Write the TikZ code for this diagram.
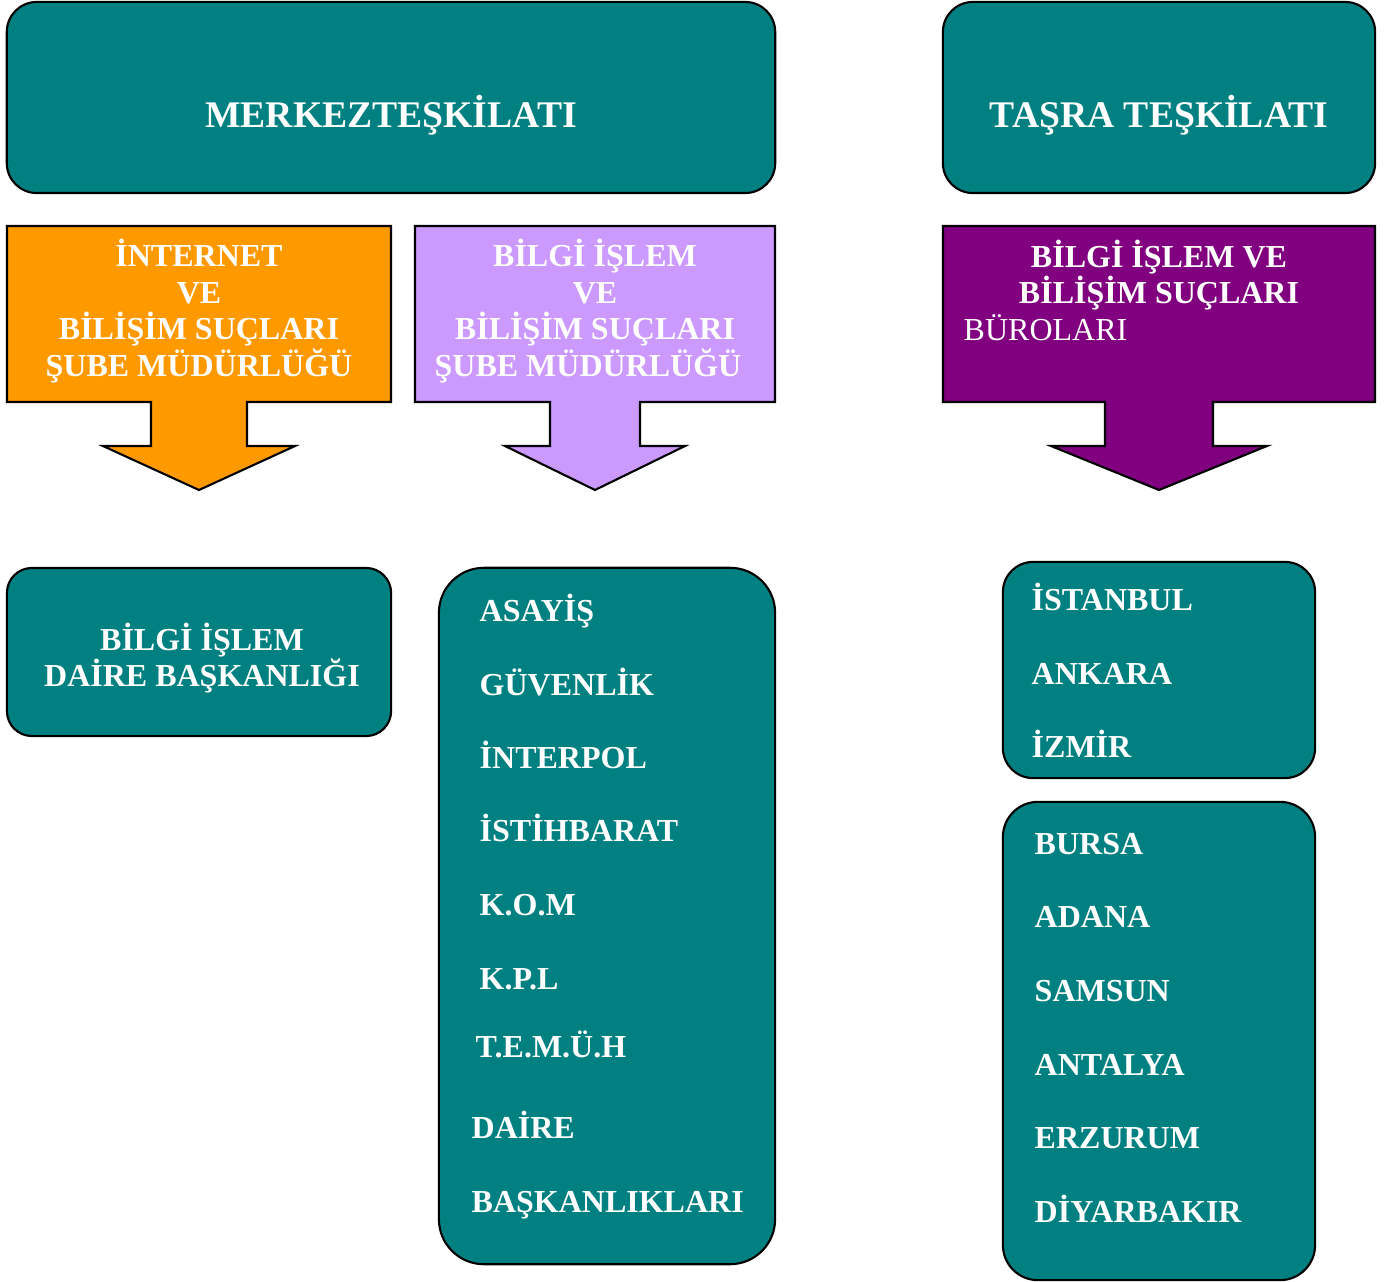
\documentclass[tikz,border=0pt]{standalone}
\usepackage{fontspec}
\setmainfont{Liberation Serif}
\usetikzlibrary{positioning}
\definecolor{tealbox}{RGB}{0,128,128}
\definecolor{orangebox}{RGB}{255,153,0}
\definecolor{lilacbox}{RGB}{204,153,255}
\definecolor{purplebox}{RGB}{128,0,128}

\begin{document}
\begin{tikzpicture}[x=0.01cm, y=-0.01cm,
    panel/.style={draw=black, line width=0.6pt, fill=tealbox, inner sep=0pt},
    callout/.style={draw=black, line width=0.6pt},
    title/.style={text=white, font=\bfseries\fontsize{10.7}{12}\selectfont, inner sep=0pt},
    head/.style={text=white, font=\bfseries\fontsize{9.1}{10.45}\selectfont, inner sep=0pt, align=center},
    item/.style={text=white, font=\bfseries\fontsize{9.1}{11}\selectfont, inner sep=0pt, anchor=base west}]
  \useasboundingbox (0,0) rectangle (1391,1282);

  % top row: the two organisations
  \node[panel, rounded corners=0.3cm, minimum width=7.68cm, minimum height=1.91cm] (merkez) at (391,97.5) {};
  \node[title] (merkezt) at ([yshift=-0.18cm]merkez.center) {MERKEZTEŞKİLATI};
  \node[panel, rounded corners=0.3cm, minimum width=4.32cm, minimum height=1.91cm] (tasra) at (1159,97.5) {};
  \node[title] (tasrat) at ([yshift=-0.18cm]tasra.center) {TAŞRA TEŞKİLATI};

  % second row: boxes with arrows pointing down
  \draw[callout, fill=orangebox] (7,226) -- (391,226) -- (391,402) -- (247,402) -- (247,446) -- (295,446)
    -- (199,490) -- (103,446) -- (151,446) -- (151,402) -- (7,402) -- cycle;
  \node[head] (internet) at (199,311) {İNTERNET\\VE\\BİLİŞİM SUÇLARI\\ŞUBE MÜDÜRLÜĞÜ};
  \draw[callout, fill=lilacbox] (415,226) -- (775,226) -- (775,402) -- (640,402) -- (640,446) -- (685,446)
    -- (595,490) -- (505,446) -- (550,446) -- (550,402) -- (415,402) -- cycle;
  \node[head] (bilgi) at (595,311) {BİLGİ İŞLEM\\VE\\BİLİŞİM SUÇLARI\\\hspace*{-0.14cm}ŞUBE MÜDÜRLÜĞÜ};
  \draw[callout, fill=purplebox] (943,226) -- (1375,226) -- (1375,402) -- (1213,402) -- (1213,446) -- (1267,446)
    -- (1159,490) -- (1051,446) -- (1105,446) -- (1105,402) -- (943,402) -- cycle;
  \node[head] (buro) at (1159,275) {BİLGİ İŞLEM VE\\BİLİŞİM SUÇLARI};
  \node[text=white, font=\fontsize{9.1}{11}\selectfont, inner sep=0pt, anchor=base west] (burolari) at (963,340) {BÜROLARI};

  % bottom row
  \node[panel, rounded corners=0.25cm, minimum width=3.84cm, minimum height=1.68cm] (daire) at (199,652) {};
  \node[head] (dairet) at ([xshift=0.03cm, yshift=-0.06cm]daire.center) {BİLGİ İŞLEM\\DAİRE BAŞKANLIĞI};

  \node[panel, rounded corners=0.45cm, minimum width=3.36cm, minimum height=6.96cm] (birim) at (607,916) {};
  \foreach \nm/\txt/\xb/\yb in {asayis/ASAYİŞ/479/621, guvenlik/GÜVENLİK/479/695, interpol/İNTERPOL/479/768,
      istihbarat/İSTİHBARAT/479/841, kom/K.O.M/479/915, kpl/K.P.L/479/989, temuh/T.E.M.Ü.H/475/1057,
      dairebas/DAİRE/471/1138, baskanlik/BAŞKANLIKLARI/471/1212}
    \node[item] (\nm) at (\xb,\yb) {\txt};

  \node[panel, rounded corners=0.3cm, minimum width=3.12cm, minimum height=2.16cm] (buyuk) at (1159,670) {};
  \foreach \nm/\txt/\yb in {istanbul/İSTANBUL/610, ankara/ANKARA/684, izmir/İZMİR/757}
    \node[item] (\nm) at (1031,\yb) {\txt};

  \node[panel, rounded corners=0.35cm, minimum width=3.12cm, minimum height=4.78cm] (diger) at (1159,1041) {};
  \foreach \nm/\txt/\yb in {bursa/BURSA/854, adana/ADANA/927, samsun/SAMSUN/1001,
      antalya/ANTALYA/1075, erzurum/ERZURUM/1148, diyarbakir/DİYARBAKIR/1222}
    \node[item] (\nm) at (1034,\yb) {\txt};
\end{tikzpicture}
\end{document}
